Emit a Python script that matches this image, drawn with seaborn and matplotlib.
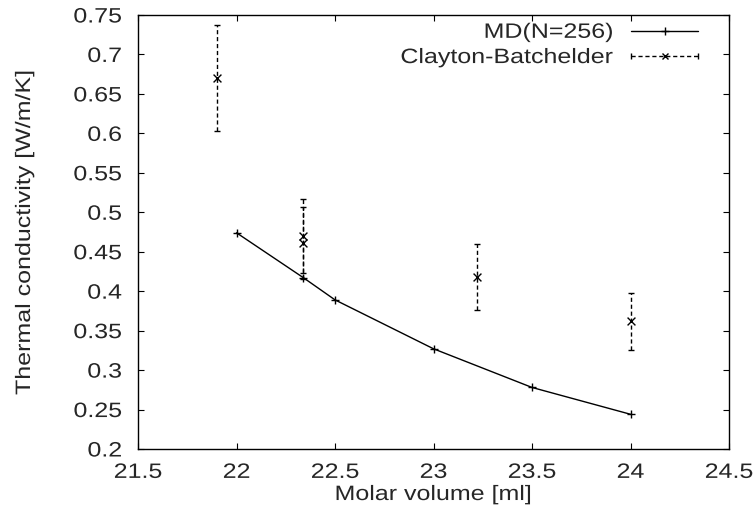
import matplotlib
matplotlib.use("Agg")
import matplotlib.pyplot as plt
from matplotlib.lines import Line2D
from matplotlib.legend_handler import HandlerLine2D, HandlerTuple
from matplotlib.patheffects import AbstractPathEffect
from matplotlib.transforms import Affine2D
import seaborn as sns
import pandas as pd

# MD (N=256) simulation results
md_volume = [22.0, 22.34, 22.5, 23.0, 23.5, 24.0]
md_kappa = [0.474, 0.417, 0.389, 0.327, 0.278, 0.244]

# Clayton-Batchelder experimental values with error
cb_volume = [21.9, 22.34, 22.34, 23.22, 24.0]
cb_kappa = [0.670, 0.470, 0.461, 0.418, 0.362]
cb_err = [0.067, 0.047, 0.046, 0.042, 0.036]

xticks = [21.5, 22, 22.5, 23, 23.5, 24, 24.5]
yticks = [0.2, 0.25, 0.3, 0.35, 0.4, 0.45, 0.5, 0.55, 0.6, 0.65, 0.7, 0.75]


class Stretch(AbstractPathEffect):
    """Widen text glyphs horizontally (the reference font is a wide Helvetica)."""
    def __init__(self, sx=1.2, anchor="center"):
        super().__init__()
        self.sx = sx
        self.anchor = anchor

    def draw_path(self, renderer, gc, tpath, affine, rgbFace=None):
        ext = tpath.get_extents()
        if self.anchor == "right":
            x0 = ext.x1
        elif self.anchor == "left":
            x0 = ext.x0
        else:
            x0 = 0.5 * (ext.x0 + ext.x1)
        t = Affine2D().translate(-x0, 0).scale(self.sx, 1).translate(x0, 0) + affine
        renderer.draw_path(gc, tpath, t, rgbFace)


SX = 1.2
sns.set_style("ticks")
plt.rcParams['font.family'] = ['Liberation Sans', 'DejaVu Sans']
plt.rcParams['font.size'] = 15

fig = plt.figure(figsize=(7.56, 5.17), dpi=100)
ax = fig.add_axes([138/756, 1-449/517, (729-138)/756, (449-15)/517])

md_df = pd.DataFrame({"v": md_volume, "k": md_kappa})
sns.lineplot(data=md_df, x="v", y="k", ax=ax, color="black", lw=1.0,
             marker="+", markersize=6, markeredgewidth=1.0,
             markeredgecolor="black", sort=False)

cb_df = pd.DataFrame({"v": cb_volume, "k": cb_kappa})
eb = ax.errorbar(cb_volume, cb_kappa, yerr=cb_err, fmt="none", ecolor="black",
                 elinewidth=1.0, capsize=2.2, capthick=1.0)
for lc in eb[2]:
    lc.set_linestyle((0, (3, 2)))
sns.scatterplot(data=cb_df, x="v", y="k", ax=ax, marker="x", color="black",
                s=32, linewidth=1.0)

ax.set_xlim(21.5, 24.5)
ax.set_ylim(0.2, 0.75)
ax.set_xticks(xticks)
ax.set_xticklabels([f"{t:g}" for t in xticks])
ax.set_yticks(yticks)
ax.set_yticklabels([f"{t:g}" for t in yticks])
ax.tick_params(direction="in", top=True, right=True, length=4.5, width=0.8,
               labelsize=15, color="black")
ax.tick_params(axis="x", pad=10)
ax.tick_params(axis="y", pad=11.5)
for s in ax.spines.values():
    s.set_linewidth(1.0)
    s.set_color("black")
ax.set_xlabel("Molar volume [ml]", fontsize=15)
ax.set_ylabel("Thermal conductivity [W/m/K]", fontsize=15)
ax.xaxis.set_label_coords(0.5, -0.083)
ax.yaxis.set_label_coords(-0.176, 0.5)

md_handle = Line2D([], [], color="black", lw=1.0, marker="+", markersize=6)
cb_line = Line2D([], [], color="black", lw=1.0, ls=(0, (3, 2)), marker="x",
                 markersize=5)
cb_caps = Line2D([], [], color="black", lw=0, marker="|", markersize=5)
leg = ax.legend([md_handle, (cb_line, cb_caps)],
                ["MD(N=256)", "Clayton-Batchelder"],
                handler_map={cb_caps: HandlerLine2D(numpoints=2, marker_pad=0),
                             tuple: HandlerTuple(ndivide=1, pad=0)},
                loc="upper right", bbox_to_anchor=(0.9475, 0.982),
                frameon=False, markerfirst=False, handlelength=3.2,
                handletextpad=0.85, labelspacing=0.3, borderpad=0,
                borderaxespad=0, fontsize=15, numpoints=1)

for lbl in ax.get_xticklabels():
    lbl.set_path_effects([Stretch(SX, "center")])
for lbl in ax.get_yticklabels():
    lbl.set_path_effects([Stretch(SX, "right")])
ax.xaxis.label.set_path_effects([Stretch(SX, "center")])
ax.yaxis.label.set_path_effects([Stretch(SX, "center")])
for t in leg.get_texts():
    t.set_path_effects([Stretch(SX, "right")])

fig.savefig("out.png", dpi=100)
